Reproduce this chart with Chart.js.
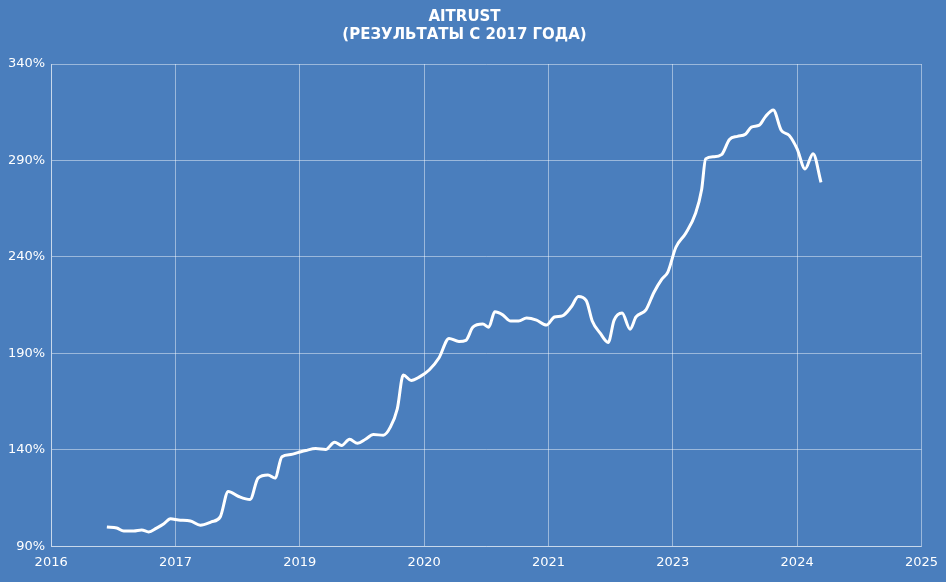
<!DOCTYPE html>
<html><head><meta charset="utf-8">
<script src="https://cdn.jsdelivr.net/npm/chart.js@4"></script>
<style>html,body{margin:0;padding:0;background:#4a7ebd;}#w{width:946px;height:582px;}</style>
</head><body><div id="w"><canvas id="c"></canvas></div>
<script>
const xTickLabels = ["2016","2017","2019","2020","2021","2023","2024","2025"];
const xPos = [108,118,125,135,143,150,158,165,172,180,192,202,213,222,230,240,252,260,270,277,284,293,300,308,318,328,337,344,352,360,368,376,386,393,400,406,414,422,432,442,452,462,469,476,486,492,498,506,514,522,530,540,550,558,566,575,582,590,596,604,612,618,626,634,640,650,658,666,672,680,690,700,706,710,718,726,734,742,750,756,764,770,778,786,794,802,810,818,826].map(p=>(p-52)/125);
const values = [100,99.5,98,98,98.5,97.5,99.5,101.6,104.3,103.7,103.2,101,102.7,105.3,118.5,116,114.3,125.4,127,125.4,136.5,137.6,138.6,139.7,140.7,140.2,144,142.3,145.5,143.4,145.5,148,147.6,151.8,161.3,178.8,176,177.7,181.4,187.8,197.8,196.2,196.8,203.6,205.2,203.6,211.6,210,206.8,206.8,208.4,207.3,204.7,208.9,209.5,214.2,219.5,217.4,206.8,200.5,195.7,207.3,211,202.6,208.9,212.6,221.6,228.5,232.2,244.9,252.3,262.8,275,290.8,291.9,293,300.9,302.5,303.6,307.3,308.3,312.6,316.2,305.7,303,296,285.6,293.5,278.7];
const pts = xPos.map((x,i)=>({x, y: values[i]}));
const grid = 'rgba(255,255,255,0.45)';
new Chart(document.getElementById('c'), {
  type: 'line',
  data: { datasets: [{ data: pts, borderColor: '#ffffff', borderWidth: 3, pointRadius: 0, tension: 0.4, cubicInterpolationMode: 'monotone' }] },
  options: {
    responsive: true, maintainAspectRatio: false, animation: false,
    layout: { padding: { left: 2, right: 19, top: 0, bottom: 4 } },
    plugins: {
      legend: { display: false },
      title: { display: true, text: ['AITRUST','(РЕЗУЛЬТАТЫ С 2017 ГОДА)'], color: '#ffffff',
        font: { family: 'DejaVu Sans', size: 15, weight: 'bold' }, padding: { top: 8, bottom: 20 }, lineHeight: 1.7 }
    },
    scales: {
      x: { type: 'linear', min: 0, max: 7, grid: { color: grid, drawTicks: false }, border: { color: grid },
        ticks: { stepSize: 1, color: '#ffffff', padding: 8, font: { family: 'DejaVu Sans', size: 13 }, callback: (v)=>xTickLabels[v] } },
      y: { min: 90, max: 340, grid: { color: grid, drawTicks: false }, border: { color: grid },
        ticks: { stepSize: 50, color: '#ffffff', padding: 6, font: { family: 'DejaVu Sans', size: 13 }, callback: v=>v+'%' } }
    }
  }
});
</script></body></html>
